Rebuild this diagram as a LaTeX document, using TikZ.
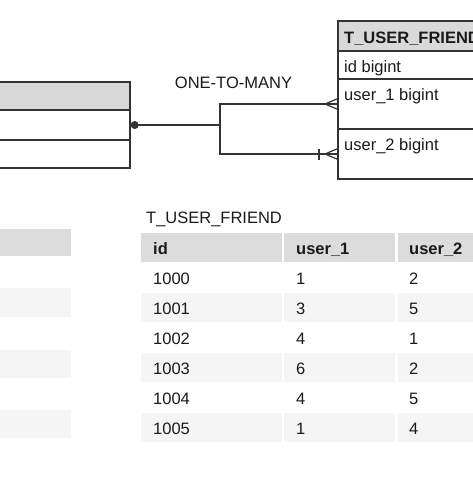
\documentclass[tikz,border=0pt]{standalone}
\usepackage{fontspec}
\setmainfont{Liberation Sans}
\usetikzlibrary{calc}
\definecolor{hdr}{HTML}{D9D9D9}
\definecolor{hdrb}{HTML}{DCDCDC}
\definecolor{stripe}{HTML}{F5F5F5}
\definecolor{ln}{HTML}{333333}
\definecolor{txt}{HTML}{1A1A1A}
\begin{document}
\begin{tikzpicture}[x=1pt,y=-1pt,
  font=\fontsize{16.5}{19}\selectfont,
  box/.style={draw=ln, line width=1.2pt, inner sep=0pt, outer sep=0pt, anchor=north west},
  cell/.style={inner sep=0pt, outer sep=0pt, anchor=north west},
  lbl/.style={inner sep=0pt, anchor=base west, text=txt},
  conn/.style={draw=ln, line width=1.2pt}]
\clip (0,0) rectangle (473,477);
\fill[white] (0,0) rectangle (473,477);
% ---------- top-left table (cut off) ----------
\node[box, fill=hdr, minimum width=140, minimum height=28] (lhead) at (-10,82) {};
\node[box, minimum width=140, minimum height=30] (lrow1) at (-10,110) {};
\node[box, minimum width=140, minimum height=28] (lrow2) at (-10,140) {};
% ---------- top-right table ----------
\node[box, fill=hdr, minimum width=150, minimum height=30] (rhead) at (338,21) {};
\node[box, minimum width=150, minimum height=28] (rid) at (338,51) {};
\node[box, minimum width=150, minimum height=50] (ru1) at (338,79) {};
\node[box, minimum width=150, minimum height=50] (ru2) at (338,129) {};
\node[lbl] (trh) at (344,43) {\bfseries T\_USER\_FRIEND};
\node[lbl] (trid) at (344,72) {id bigint};
\node[lbl] (tru1) at (344,100) {user\_1 bigint};
\node[lbl] (tru2) at (344,150) {user\_2 bigint};
% ---------- connector ----------
\node[lbl, anchor=base] (rel) at (233.5,88) {ONE-TO-MANY};
\node[circle, fill=ln, minimum size=8, inner sep=0pt, anchor=west] (dot) at ($(lrow1.east)+(0.5,0)$) {};
\coordinate (j) at (220,125);
\draw[conn] (dot.center) -- (j) |- (ru1.west);
\draw[conn] (j) |- (ru2.west);
% crow's feet
\draw[conn] ($(ru1.west)+(-13,0)$) -- ($(ru1.west)+(0,-5.5)$);
\draw[conn] ($(ru1.west)+(-13,0)$) -- ($(ru1.west)+(0,5.5)$);
\draw[conn] ($(ru2.west)+(-13,0)$) -- ($(ru2.west)+(0,-5.5)$);
\draw[conn] ($(ru2.west)+(-13,0)$) -- ($(ru2.west)+(0,5.5)$);
\draw[conn] ($(ru2.west)+(-19,-5.5)$) -- ($(ru2.west)+(-19,5.5)$);
% ---------- bottom-left table (cut off) ----------
\node[cell, fill=hdrb, minimum width=81, minimum height=27] (blh) at (-10,229) {};
\node[cell, fill=stripe, minimum width=81, minimum height=29] (bls1) at (-10,288) {};
\node[cell, fill=stripe, minimum width=81, minimum height=28] (bls2) at (-10,350) {};
\node[cell, fill=stripe, minimum width=81, minimum height=28] (bls3) at (-10,410) {};
% ---------- bottom-right table ----------
\node[lbl] (btitle) at (146,223) {T\_USER\_FRIEND};
\node[cell, fill=hdrb, minimum width=141, minimum height=29] (bh1) at (141,233) {};
\node[cell, fill=hdrb, minimum width=111, minimum height=29] (bh2) at (284,233) {};
\node[cell, fill=hdrb, minimum width=90, minimum height=29] (bh3) at (398,233) {};
\node[lbl] (bht1) at (153,254) {\bfseries id};
\node[lbl] (bht2) at (296,254) {\bfseries user\_1};
\node[lbl] (bht3) at (409,254) {\bfseries user\_2};
\foreach \k in {1,3,5}{
  \node[cell, fill=stripe, minimum width=141, minimum height=29] (bs\k a) at (141,263+30*\k) {};
  \node[cell, fill=stripe, minimum width=111, minimum height=29] (bs\k b) at (284,263+30*\k) {};
  \node[cell, fill=stripe, minimum width=90, minimum height=29] (bs\k c) at (398,263+30*\k) {};
}
\foreach \a/\b/\c [count=\k from 0] in {1000/1/2,1001/3/5,1002/4/1,1003/6/2,1004/4/5,1005/1/4}{
  \node[lbl] (d\k a) at (153,284+30*\k) {\a};
  \node[lbl] (d\k b) at (296,284+30*\k) {\b};
  \node[lbl] (d\k c) at (409,284+30*\k) {\c};
}
\end{tikzpicture}
\end{document}
